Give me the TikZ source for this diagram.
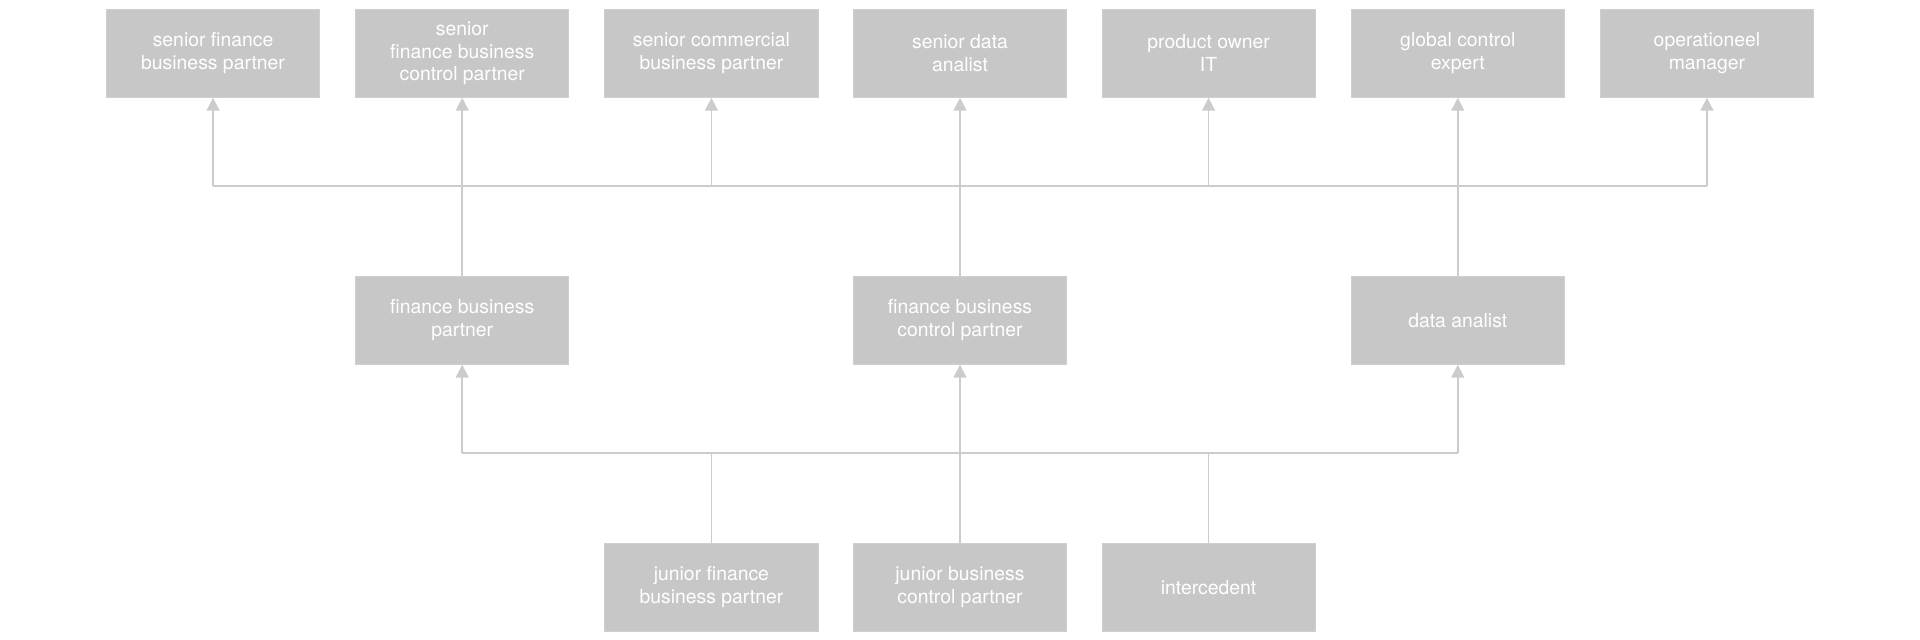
\documentclass[tikz,border=0pt]{standalone}
\usepackage{fontspec}
\setmainfont{TeX Gyre Heros}
\usepackage{tikz}
\usetikzlibrary{arrows.meta}
\definecolor{boxgray}{RGB}{198,199,198}
\definecolor{linegray}{RGB}{204,204,204}

\begin{document}
\begin{tikzpicture}[x=0.02cm, y=0.02cm,
	role/.style={fill=boxgray, draw=boxgray!85!white, line width=0.4pt, minimum width=3.48cm, minimum height=1.44cm, inner sep=0pt, align=center, text=white, font=\fontsize{9}{10.6}\selectfont},
	link/.style={draw=linegray, line width=0.8pt},
	arr/.style={link, -{Triangle[width=6pt, length=6pt]}}]
						\useasboundingbox (0,0) rectangle (1568,-522);
						\node[role] (sfbp) at (174,-43.5) {senior finance\\business partner};
						\node[role] (sfbcp) at (377.5,-43.5) {senior\\finance business\\control partner};
						\node[role] (scbp) at (581,-43.5) {senior commercial\\business partner};
						\node[role] (sda) at (784,-43.5) {senior data\\analist};
						\node[role] (poit) at (987,-43.5) {product owner\\IT};
						\node[role] (gce) at (1190.5,-43.5) {global control\\expert};
						\node[role] (om) at (1394,-43.5) {operationeel\\manager};
						\node[role] (fbp) at (377.5,-261.5) {finance business\\partner};
						\node[role] (fbcp) at (784,-261.5) {finance business\\control partner};
						\node[role] (da) at (1190.5,-261.5) {data analist};
						\node[role] (jfbp) at (581,-479.5) {junior finance\\business partner};
						\node[role] (jbcp) at (784,-479.5) {junior business\\control partner};
						\node[role] (ic) at (987,-479.5) {intercedent};
						\coordinate (up1) at (174,-152);
						\coordinate (up3) at (581,-152);
						\coordinate (up5) at (987,-152);
						\coordinate (up7) at (1394,-152);
						\coordinate (lo1) at (377.5,-370);
						\coordinate (lo2) at (581,-370);
						\coordinate (lo4) at (987,-370);
						\coordinate (lo5) at (1190.5,-370);
						\draw[link] (up1) -- (up7);
						\draw[arr] (up1) -- (sfbp);
						\draw[arr] (up3) -- (scbp);
						\draw[arr] (up5) -- (poit);
						\draw[arr] (up7) -- (om);
						\draw[arr] (fbp) -- (sfbcp);
						\draw[arr] (fbcp) -- (sda);
						\draw[arr] (da) -- (gce);
						\draw[link] (lo1) -- (lo5);
						\draw[arr] (lo1) -- (fbp);
						\draw[arr] (lo5) -- (da);
						\draw[link] (jfbp) -- (lo2);
						\draw[link] (ic) -- (lo4);
						\draw[arr] (jbcp) -- (fbcp);
					\end{tikzpicture}
\end{document}
